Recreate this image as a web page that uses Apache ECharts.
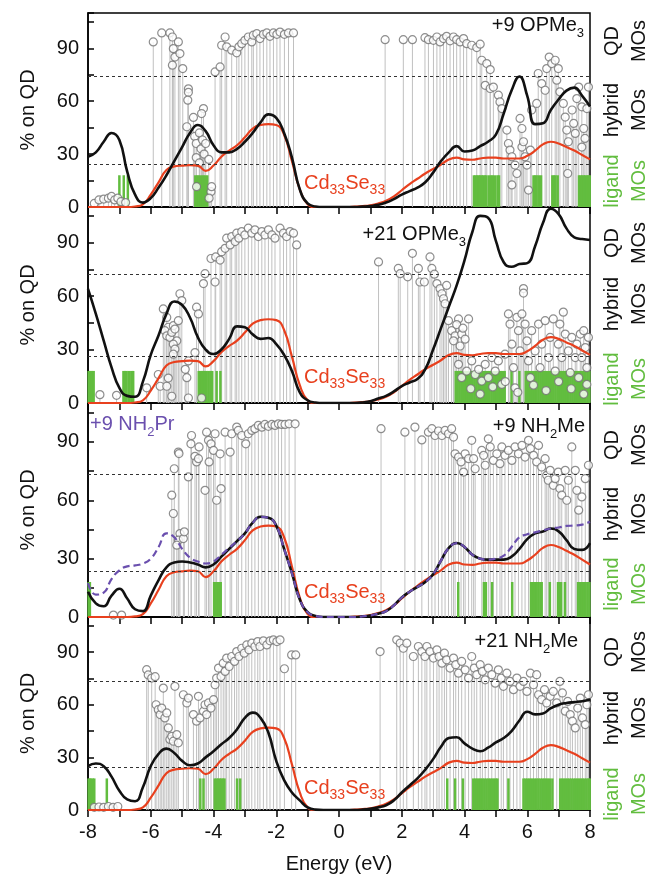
<!DOCTYPE html>
<html>
<head>
<meta charset="utf-8">
<script src="https://cdn.jsdelivr.net/npm/echarts/dist/echarts.min.js"></script>
<style>
  html, body { margin: 0; padding: 0; background: #fff; }
  #chart { width: 651px; height: 875px; }
</style>
</head>
<body>
<div id="chart"></div>
<script>
// energy grid (eV) used by the smooth curves
const energyGrid = [
  -8, -7.75, -7.5, -7.25, -7, -6.75, -6.5, -6.25, -6, -5.75, -5.5, -5.25,
  -5, -4.75, -4.5, -4.25, -4, -3.75, -3.5, -3.25, -3, -2.75, -2.5, -2.25,
  -2, -1.75, -1.5, -1.25, -1, -0.75, -0.5, -0.25, 0, 0.25, 0.5, 0.75,
  1, 1.25, 1.5, 1.75, 2, 2.25, 2.5, 2.75, 3, 3.25, 3.5, 3.75,
  4, 4.25, 4.5, 4.75, 5, 5.25, 5.5, 5.75, 6, 6.25, 6.5, 6.75,
  7, 7.25, 7.5, 7.75, 8
];

// bare Cd33Se33 reference curve (same in every panel)
const cdseCurve = [
  0, 0, 0, 0,  0, 0, 0.3, 1.5,  7, 14, 21, 23,  23.5, 23.8, 23.5, 20.5,
  23.5, 28.5, 32, 35,  39.5, 44.5, 46.5, 47,  46.5, 41, 26, 10,  1.5, 0, 0, 0,
  0, 0, 0.2, 0.5,  1, 2, 3.5, 6,  9.5, 13, 16, 19,  21.5, 24, 27, 28,
  27, 26.8, 27.5, 28,  28, 27.5, 27.5, 27.5,  29, 32, 35.5, 37,  36, 34, 32, 29.5,
  27
];

// ligated clusters (black curves)
const curveOPMe9 = [
  28.5, 31, 37, 42,  38, 20, 7, 2.5,  5, 11, 18, 26,  34, 42, 46.5, 43,
  35, 31, 31, 33,  37, 42, 48, 52.5,  50.5, 42, 28, 10,  2, 0.3, 0, 0,
  0, 0, 0, 0.2,  0.5, 1.2, 2.5, 4.5,  7, 9, 11, 14,  19.5, 26, 31, 34.5,
  31.5, 32, 34.5, 37,  41, 53, 66, 74,  63, 47, 47.5, 55,  61, 66, 67.7, 63,
  57
];
const curveOPMe21 = [
  64, 50, 35, 20,  8.5, 4, 3.5, 12,  27, 38, 50, 57,  55, 48, 37, 30,
  27.5, 30, 36, 43,  42.5, 38.5, 36, 36.5,  33, 27, 18, 6,  1.5, 0.3, 0, 0,
  0, 0, 0, 0.3,  1, 2.5, 4, 6.5,  9.5, 11.5, 13.5, 19,  30, 42, 54, 66,
  80, 96, 105, 104,  91, 79, 76.5, 78,  78.5, 88, 101, 109,  106, 98, 93, 92,
  91.5
];
const curveNH2Me9 = [
  13, 7, 5.5, 11,  14.5, 9.5, 4, 3,  11, 19, 25.5, 28,  28.5, 28, 27, 25.5,
  27, 31, 35, 39,  43, 48.5, 51.5, 51,  47, 35, 22.5, 9,  2.5, 0.5, 0, 0,
  0, 0, 0, 0.3,  0.8, 1.7, 3, 6,  10, 13, 15.5, 18,  22, 29, 35.5, 38,
  36, 32, 30, 29.5,  29.5, 29.5, 31, 35,  40, 43, 44, 45.5,  44, 39.5, 35, 34.5,
  38
];
const curveNH2Pr9 = [
  17.5, 11.5, 12.5, 19.5,  24, 26, 26.5, 27.5,  30, 36, 43, 41,  35, 30.5, 28.5, 27.5,
  28.5, 32, 35.5, 39,  43, 48.5, 51.5, 51,  47, 35, 22.5, 9,  2.5, 0.5, 0, 0,
  0, 0, 0, 0.3,  0.8, 1.7, 3, 6,  10, 13, 15.5, 18,  22, 29, 35.5, 38,
  36, 32, 30, 29.5,  30, 31.5, 36, 41,  42.5, 43.5, 44.5, 45.5,  46, 46.8, 47, 47.5,
  49
];
const curveNH2Me21 = [
  25, 26.5, 25, 19,  11, 6, 5, 13,  25, 32, 35, 32.5,  28, 25.5, 26.5, 30,
  33.5, 37.5, 41, 46,  52.5, 55.5, 52.5, 44,  28, 17, 10, 5.5,  1.5, 0.2, 0, 0,
  0, 0, 0, 0.2,  0.7, 1.5, 2.7, 5.5,  10, 14, 18, 23,  29, 36, 41, 41.5,
  38, 35, 33.5, 35.5,  38.5, 41, 45, 51,  56, 54.5, 55, 58,  60, 61, 61.5, 62,
  63
];

// individual MOs: [energy eV, % on QD]
const mosOPMe9 = [
  [-7.8,2],[-7.65,4],[-7.5,4.5],[-7.35,5],[-7.25,6],[-7.15,4],[-7.05,5],[-6.95,3],[-6.8,2.5],
  [-5.92,93.6],[-5.65,98.7],[-5.39,98.7],[-5.31,96.4],[-5.28,89.8],[-5.23,85],[-5.31,80.4],[-5.12,93.6],[-5.07,87],[-4.98,78.5],
  [-4.8,67],[-4.8,65],[-4.82,60.6],[-4.85,45.5],[-4.64,50.8],[-4.32,55.8],[-4.38,53],
  [-4.6,40],[-4.55,36],[-4.45,42],[-4.4,33],[-4.35,38],[-4.3,30],[-4.25,36],[-4.55,28],[-4.45,25],[-4.15,27],
  [-4.54,11.5],[-4.08,8.7],[-4.14,5],[-4.06,11.5],
  [-3.95,76.6],[-3.79,79.4],[-3.74,91.7],[-3.63,96.4],[-3.58,90.8],[-3.42,88.9],[-3.26,87.4],[-3.19,90.8],[-3.1,92.6],[-3.0,94.5],
  [-2.89,96.4],[-2.78,93.6],[-2.73,97.4],[-2.62,98.3],[-2.52,95.5],[-2.41,97.9],[-2.3,98.7],[-2.2,96.8],[-2.09,98.7],[-1.98,97.9],
  [-1.88,99.2],[-1.74,97.9],[-1.61,98.7],[-1.45,98.7],
  [1.47,94.9],[2.05,94.9],[2.34,94.9],[2.74,96],[2.85,94.9],[3.01,94.5],[3.12,96.4],[3.22,93.6],[3.33,95.5],[3.43,96.8],
  [3.54,94.2],[3.65,96.4],[3.75,94.9],[3.86,93.6],[3.97,95.5],[4.07,92.6],[4.23,91.7],[4.39,90.4],[4.5,92.3],[4.55,83.2],
  [4.71,81.3],[4.82,77.9],[4.66,69],[4.82,67.2],[4.92,68],[5.08,63.4],[5.13,59.6],[5.19,55.8],[5.35,43.6],[5.4,36],
  [5.45,32.3],[5.51,28.5],[5.61,23.8],[5.67,19],[5.51,12.5],[5.83,34],[5.77,50.2],[5.83,44.5],[5.93,28.5],[5.99,23.8],
  [6.1,32.3],[6.04,9.6],[5.88,37],[6.14,55],[6.3,58.7],[6.35,75.7],[6.46,70],[6.57,66.2],[6.62,78.5],[6.7,85],
  [6.78,81.3],[6.89,83.2],[6.99,78.5],[6.94,71.9],[7.04,65.3],[7.15,58.7],[7.21,51],[7.26,43.6],[7.31,37],[7.29,19],
  [7.43,55],[7.48,47.4],[7.53,41.7],[7.58,61.5],[7.64,68],[7.74,56.8],[7.8,44.5],[7.84,38.9],[7.74,34],[7.9,55.8],[7.95,68]
];
const mosOPMe21 = [
  [-7.62,4.7],[-7.09,4.3],[-6.13,8.5],[-5.76,16],[-5.7,9.4],[-5.49,9.4],[-5.44,14],[-5.33,3.8],
  [-5.6,52.8],[-5.49,48],[-5.44,42.5],[-5.55,40.6],[-5.49,37.7],[-5.39,36.8],[-5.33,39.6],[-5.28,43.4],[-5.23,41.5],[-5.17,34.9],
  [-5.28,33],[-5.23,30.2],[-5.28,27.4],[-5.12,46.2],[-5.07,61.3],[-5.01,57.5],
  [-4.9,18.9],[-4.8,23.6],[-4.85,14.2],[-4.8,2.8],[-4.59,28.3],[-4.54,53.8],[-4.48,50],[-4.38,2.8],[-4.32,67],[-4.27,72.6],[-3.95,67.9],
  [-4.08,81.1],[-3.93,82],[-3.79,80.2],[-3.74,84.9],[-3.63,86.8],[-3.58,92.5],[-3.47,88.7],[-3.42,93.4],[-3.31,90.6],[-3.26,95.3],
  [-3.19,92.5],[-3.1,96.2],[-3,94.3],[-2.89,98.1],[-2.78,95.3],[-2.68,97.2],[-2.57,93.4],[-2.46,96.2],[-2.36,94.3],[-2.25,97.2],
  [-2.14,94.3],[-2.04,92.5],[-1.88,98.1],[-1.77,95.3],[-1.67,93.4],[-1.56,96.2],[-1.45,95.3],[-1.35,88.7],
  [1.26,79.2],[1.89,75.5],[1.95,72.6],[2.19,70.8],[2.34,84],[2.53,75.5],[2.58,67.9],[2.72,67.9],[2.9,82],[2.96,75.5],
  [3.04,72.3],[3.12,67],[3.22,64.2],[3.28,61.3],[3.33,58.5],[3.38,55.7],[3.43,66],[3.49,46.2],[3.59,40.6],[3.7,37.7],
  [3.65,34.9],[3.81,47.2],[3.86,32],[3.91,38.7],[4.02,35.8],[4.13,47.2],[3.75,44],[3.95,42],
  [3.81,21.7],[3.91,14.2],[4.07,17.9],[4.23,23.6],[4.34,16],[4.45,18.9],[4.55,12.3],[4.66,21.7],[4.76,14.2],[4.87,25.5],
  [4.98,17.9],[5.08,23.6],[5.19,10.4],[5.29,27.4],[5.4,50],[5.45,44.3],[5.51,33],[5.56,19.8],[5.61,8.5],[5.67,48.1],
  [5.72,40.6],[5.77,29.2],[5.83,50],[5.88,64.2],[5.88,61.7],[5.93,44.3],[5.99,34.9],[6.04,23.6],[6.1,14.2],[6.14,40.6],
  [6.25,29.2],[6.36,44.3],[6.41,19.8],[6.46,33],[6.57,46.2],[6.68,25.5],[6.73,36.8],[6.83,47.2],[6.89,17.9],[6.99,33],
  [7.04,44.3],[7.1,25.5],[7.15,51],[7.21,38.7],[7.31,29.2],[7.37,17],[7.42,36.8],[7.53,25.5],[7.58,33],[7.64,14.2],
  [7.69,38.7],[7.74,25.5],[7.8,40.6],[7.85,31.1],[7.9,19.8],[7.95,36.8],[7.9,10.4],
  [4.2,8],[4.5,5],[4.9,9],[5.3,12],[5.7,6],[6.2,10],[6.6,7],[7.0,12],[7.4,8],[7.8,5]
];
const mosNH2Me9 = [
  [-7.19,1],[-6.93,1],
  [-5.33,62.6],[-5.28,53.2],[-5.25,76.2],[-5.12,84.8],[-5.1,84],[-5.07,42.9],[-5.12,39.5],[-5.17,36.9],[-4.96,40.3],[-4.93,43.8],
  [-4.8,72],[-4.72,89],[-4.7,93.3],[-4.59,82.6],[-4.54,79.7],[-4.46,87.4],[-4.48,81.4],[-4.27,65.1],[-4.22,95],[-4.16,90.8],
  [-4.14,79.7],[-4.08,89],[-4,85.6],[-3.95,94.2],[-3.9,60],[-3.79,83.9],[-3.76,66],[-3.63,95],[-3.47,84.8],[-3.42,94.2],
  [-3.26,97.6],[-3.21,95.9],[-3.1,93.3],[-2.97,89],[-2.89,94.2],[-2.78,95.9],[-2.68,96.8],[-2.57,98.5],[-2.46,97.6],[-2.36,99],
  [-2.25,98],[-2.14,99],[-2.04,98.5],[-1.93,99.3],[-1.83,99],[-1.72,99],[-1.59,99.3],[-1.4,99.3],
  [1.34,96.8],[2.1,95],[2.42,97.6],[2.64,91],[2.85,95],[2.96,96.8],[3.06,93.3],[3.17,95.6],[3.28,93.3],[3.38,95.9],
  [3.49,94.2],[3.59,96.8],[3.65,92.5],[3.7,83.9],[3.81,82.2],[3.89,79.7],[3.97,74.5],[4.02,83.9],[4.13,81.4],[4.23,90.8],
  [4.34,76.2],[4.29,81.4],[4.55,85.6],[4.61,83.1],[4.66,78],[4.76,91.6],[4.82,87.4],[4.92,80.5],[5.03,83.9],[5.13,78.8],
  [5.19,87.4],[5.29,83.1],[5.4,85.6],[5.51,80.5],[5.61,87.4],[5.72,83.9],[5.83,88.2],[5.93,82.2],[6.04,90.8],[6.1,86.5],
  [6.2,83.1],[6.3,79.7],[6.36,88.2],[6.46,77.1],[6.57,81.4],[6.62,72.8],[6.67,70.3],[6.73,75.4],[6.83,67.7],[6.89,71.1],
  [6.99,74.5],[7.04,66],[7.1,62.6],[7.21,75.4],[7.26,60],[7.31,70.3],[7.42,87.4],[7.53,75.4],[7.58,65.1],[7.64,54.9],
  [7.74,61.7],[7.85,71.1],[7.95,78]
];
const mosNH2Me21 = [
  [-7.8,1.5],[-7.65,1.7],[-7.5,1.5],[-7.35,2],[-7.2,1.5],[-7.05,2],
  [-6.13,80],[-6.08,77],[-5.97,75.2],[-5.86,76],[-5.83,60],[-5.76,57.2],[-5.7,54.4],[-5.65,58.1],[-5.6,69.5],[-5.55,52.5],
  [-5.49,55.3],[-5.44,46.8],[-5.39,40.2],[-5.33,42],[-5.28,39.2],[-5.23,70.5],[-5.17,43],[-5.12,38.3],[-4.96,65.7],[-4.85,61],
  [-4.8,63.8],[-4.64,54.4],[-4.54,50.6],[-4.48,64.8],[-4.43,52.5],[-4.32,56.3],[-4.27,60],[-4.22,54.4],[-4.16,61],[-4.08,58.1],
  [-4,62.9],[-3.95,71.4],[-3.9,75.2],[-3.84,80.9],[-3.76,76.1],[-3.69,83.7],[-3.63,79],[-3.58,86.6],[-3.5,81.8],[-3.42,87.5],
  [-3.33,84.7],[-3.26,90.3],[-3.19,87.5],[-3.1,92.2],[-3.02,89.4],[-2.94,94.1],[-2.87,91.3],[-2.78,95.1],[-2.68,93.2],[-2.59,96],
  [-2.52,93.2],[-2.41,96.4],[-2.3,94.1],[-2.2,96.4],[-2.09,97],[-1.98,96],[-1.88,97],[-1.74,80.5],[-1.51,88.4],[-1.38,88.4],
  [1.31,90.3],[1.84,97],[1.95,95.1],[2.05,92.2],[2.16,95.1],[2.37,87.5],[2.53,93.2],[2.64,90.3],[2.74,87.5],[2.8,93.2],
  [2.9,90.3],[3.01,86.6],[3.12,91.3],[3.19,87.5],[3.28,83.7],[3.36,89.4],[3.43,85.6],[3.54,80.9],[3.65,86.6],[3.72,82.8],
  [3.81,78],[3.91,84.7],[4.02,79.9],[4.13,75.2],[4.23,87.5],[4.31,80.9],[4.39,77.1],[4.5,82.8],[4.57,79],[4.66,74.2],
  [4.76,80.9],[4.87,77.1],[4.98,72.3],[5.08,79.9],[5.17,75.2],[5.24,70.5],[5.35,78],[5.45,73.3],[5.56,68.6],[5.67,75.2],
  [5.77,70.5],[5.88,73.3],[5.99,67.6],[6.1,78],[6.2,71.4],[6.3,77.1],[6.36,65.7],[6.46,62.9],[6.55,68.6],[6.62,61],
  [6.73,64.8],[6.83,67.6],[6.94,61],[7.04,73.3],[7.12,66.7],[7.21,56.3],[7.29,61.9],[7.37,54.4],[7.44,50.6],[7.53,46.8],
  [7.61,58.1],[7.69,63.8],[7.76,52.5],[7.85,48.7],[7.9,60],[7.95,65.7]
];

// ligand MOs (energies, eV), drawn as short green stems
const ligandTop = 18;
const ligOPMe9 = [
  -7.0, -6.86, -6.73, -4.58, -4.52, -4.47, -4.4, -4.33, -4.27, -4.2,
  4.3, 4.35, 4.4, 4.45, 4.5, 4.55, 4.6, 4.65, 4.7, 4.78, 4.85, 4.9, 4.97, 5.05, 5.1,
  6.2, 6.25, 6.3, 6.37, 6.44, 6.8, 6.85, 6.9, 6.97,
  7.65, 7.7, 7.75, 7.8, 7.85, 7.9, 7.95, 7.99
];
const ligOPMe21 = [
  -7.98, -7.93, -7.88, -7.82, -6.87, -6.82, -6.77, -6.7, -6.62, -6.56,
  -4.47, -4.42, -4.37, -4.32, -4.27, -4.22, -4.16, -4.1, -4.04, -3.9, -3.78,
  3.72, 3.78, 3.84, 3.9, 3.96, 4.02, 4.08, 4.14, 4.2, 4.26, 4.32, 4.38, 4.44, 4.5, 4.56,
  4.62, 4.68, 4.74, 4.8, 4.86, 4.92, 4.98, 5.04, 5.1, 5.16, 5.22, 5.28, 5.5, 5.75,
  5.95, 6.0, 6.06, 6.12, 6.18, 6.24, 6.3, 6.36, 6.42, 6.48, 6.54, 6.6, 6.66, 6.72, 6.78,
  6.84, 6.9, 6.96, 7.02, 7.08, 7.14, 7.2, 7.26, 7.32, 7.38, 7.44, 7.5, 7.56, 7.62, 7.68,
  7.74, 7.8, 7.86, 7.92, 7.98
];
const ligNH2Me9 = [
  -7.98, -7.94, -3.98, -3.93, -3.88, -3.82, -3.77,
  3.8, 4.62, 4.68, 4.88, 5.52, 6.12, 6.16, 6.2, 6.25, 6.3, 6.36, 6.42, 6.46,
  6.72, 6.98, 7.03, 7.08, 7.2, 7.62, 7.68, 7.74, 7.8, 7.86, 7.92, 7.98
];
const ligNH2Me21 = [
  -7.98, -7.94, -7.9, -7.85, -7.8, -7.4, -4.42, -4.32,
  -3.96, -3.9, -3.85, -3.8, -3.75, -3.7, -3.65, -3.25, -3.15,
  3.45, 3.7, 3.95,
  4.28, 4.34, 4.4, 4.46, 4.52, 4.58, 4.64, 4.7, 4.76, 4.82, 4.88, 4.94, 5.0, 5.05, 5.4,
  5.88, 5.94, 6.0, 6.06, 6.12, 6.18, 6.24, 6.3, 6.36, 6.42, 6.48, 6.54, 6.6, 6.66, 6.72, 6.8,
  7.05, 7.11, 7.17, 7.23, 7.29, 7.35, 7.41, 7.47, 7.53, 7.59, 7.65, 7.71, 7.77, 7.83, 7.89, 7.95, 7.99
];

// dashed separators (QD / hybrid / ligand) per panel
const dashLevels = [[74, 24.5], [72, 26], [73.5, 23.5], [73.5, 24.5]];

const xTicks = [-8, -6, -4, -2, 0, 2, 4, 6, 8];
const yTicks = [0, 30, 60, 90];

const FONT = '"Liberation Sans", Arial, Helvetica, sans-serif';
const RED = "#e8401e";
const GREEN = "#62bd3f";
const PURPLE = "#6a4fae";

const panels = [
  { top: 13, height: 194, mos: mosOPMe9, lig: ligOPMe9, curve: curveOPMe9 },
  { top: 207, height: 196, mos: mosOPMe21, lig: ligOPMe21, curve: curveOPMe21 },
  { top: 403, height: 214, mos: mosNH2Me9, lig: ligNH2Me9, curve: curveNH2Me9, extra: curveNH2Pr9 },
  { top: 617, height: 194, mos: mosNH2Me21, lig: ligNH2Me21, curve: curveNH2Me21 },
];

function stems(i, data, color, width, z) {
  return {
    type: "custom",
    xAxisIndex: i,
    yAxisIndex: i,
    z: z,
    silent: true,
    data: data,
    renderItem: function (params, api) {
      const p0 = api.coord([api.value(0), 0]);
      const p1 = api.coord([api.value(0), api.value(1)]);
      return {
        type: "line",
        shape: { x1: p0[0], y1: p0[1], x2: p1[0], y2: p1[1] },
        style: { stroke: color, lineWidth: width },
      };
    },
  };
}

function curve(i, values, color, width, type, z, extra) {
  return Object.assign({
    type: "line",
    xAxisIndex: i,
    yAxisIndex: i,
    z: z,
    data: energyGrid.map((e, k) => [e, values[k]]),
    smooth: 0.5,
    showSymbol: false,
    symbol: "none",
    silent: true,
    clip: true,
    lineStyle: { color: color, width: width, type: type },
  }, extra || {});
}

function textEl(x, y, text, color, align, rotate, subSize) {
  return {
    type: "text",
    x: x,
    y: y,
    z: 100,
    rotation: rotate ? Math.PI / 2 : 0,
    style: {
      text: text,
      fill: color,
      fontSize: 20,
      fontFamily: FONT,
      font: "20px " + FONT,
      lineHeight: 29,
      align: align,
      textAlign: align,
      verticalAlign: "middle",
      textVerticalAlign: "middle",
      rich: {
        s: { fontSize: subSize || 13, fontFamily: FONT, fill: color, verticalAlign: "bottom", lineHeight: 14 },
      },
    },
  };
}

const series = [];
panels.forEach((p, i) => {
  series.push(stems(i, p.mos, "#c0c0c0", 1, 1));
  series.push(stems(i, p.lig.map((e) => [e, ligandTop]), GREEN, 2.5, 2));
  series.push({
    type: "scatter",
    xAxisIndex: i,
    yAxisIndex: i,
    z: 3,
    silent: true,
    data: p.mos,
    symbol: "circle",
    symbolSize: 8,
    itemStyle: { color: "#ffffff", borderColor: "#727272", borderWidth: 1.2 },
  });
  series.push(curve(i, cdseCurve, RED, 2.2, "solid", 4, {
    markLine: {
      silent: true,
      symbol: "none",
      label: { show: false },
      lineStyle: { color: "#333", type: [3, 3], width: 1 },
      data: dashLevels[i].map((v) => ({ yAxis: v })),
    },
  }));
  series.push(curve(i, p.curve, "#111111", 2.6, "solid", 5));
  if (p.extra) series.push(curve(i, p.extra, PURPLE, 2.2, [7, 4], 6));
});

const rightLabels = [
  [41, 110, 181], [243, 304, 379], [445, 514, 584], [652, 718, 794],
];
const graphics = [];
rightLabels.forEach((ys) => {
  graphics.push(textEl(612, ys[0], "QD", "#111", "center", true));
  graphics.push(textEl(639, ys[0], "MOs", "#111", "center", true));
  graphics.push(textEl(612, ys[1], "hybrid", "#111", "center", true));
  graphics.push(textEl(639, ys[1], "MOs", "#111", "center", true));
  graphics.push(textEl(612, ys[2], "ligand", GREEN, "center", true));
  graphics.push(textEl(639, ys[2], "MOs", GREEN, "center", true));
});
graphics.push(textEl(584, 25, "+9 OPMe{s|3}", "#111", "right"));
graphics.push(textEl(466, 234, "+21 OPMe{s|3}", "#111", "right"));
graphics.push(textEl(585, 426, "+9 NH{s|2}Me", "#111", "right"));
graphics.push(textEl(90, 424, "+9 NH{s|2}Pr", PURPLE, "left"));
graphics.push(textEl(578, 641, "+21 NH{s|2}Me", "#111", "right"));
[183, 377, 592, 788].forEach((y) => {
  graphics.push(textEl(304, y, "Cd{s|33}Se{s|33}", RED, "left", false, 14));
});

const option = {
  animation: false,
  backgroundColor: "#ffffff",
  textStyle: { fontFamily: FONT },
  grid: panels.map((p) => ({
    left: 88,
    right: 61,
    top: p.top,
    height: p.height,
    show: true,
    borderColor: "#000",
    borderWidth: 1.5,
    backgroundColor: "transparent",
  })),
  xAxis: panels.map((p, i) => ({
    type: "value",
    gridIndex: i,
    min: -8,
    max: 8,
    interval: 1,
    axisLine: { show: true, onZero: false, lineStyle: { color: "#000", width: 1.5 } },
    axisTick: { show: true, inside: false, length: 7, lineStyle: { color: "#000", width: 1.5 } },
    axisLabel: {
      show: i === 3,
      fontSize: 20,
      color: "#111",
      fontFamily: FONT,
      margin: 12,
      formatter: (v) => (xTicks.indexOf(v) >= 0 ? String(v) : ""),
    },
    splitLine: { show: false },
    name: i === 3 ? "Energy (eV)" : "",
    nameLocation: "middle",
    nameGap: 44,
    nameTextStyle: { fontSize: 20, color: "#111", fontFamily: FONT },
  })),
  yAxis: panels.map((p, i) => ({
    type: "value",
    gridIndex: i,
    min: 0,
    max: 110,
    interval: 15,
    axisLine: { show: true, onZero: false, lineStyle: { color: "#000", width: 1.5 } },
    axisTick: { show: true, inside: true, length: 6, lineStyle: { color: "#000", width: 1.5 } },
    axisLabel: {
      fontSize: 20,
      color: "#111",
      fontFamily: FONT,
      margin: 9,
      formatter: (v) => (yTicks.indexOf(v) >= 0 ? String(v) : ""),
    },
    splitLine: { show: false },
    name: "% on QD",
    nameLocation: "middle",
    nameGap: 50,
    nameTextStyle: { fontSize: 20, color: "#111", fontFamily: FONT },
  })),
  series: series,
  graphic: graphics,
};

const chart = echarts.init(document.getElementById("chart"), null, { renderer: "canvas" });
chart.setOption(option);
</script>
</body>
</html>
